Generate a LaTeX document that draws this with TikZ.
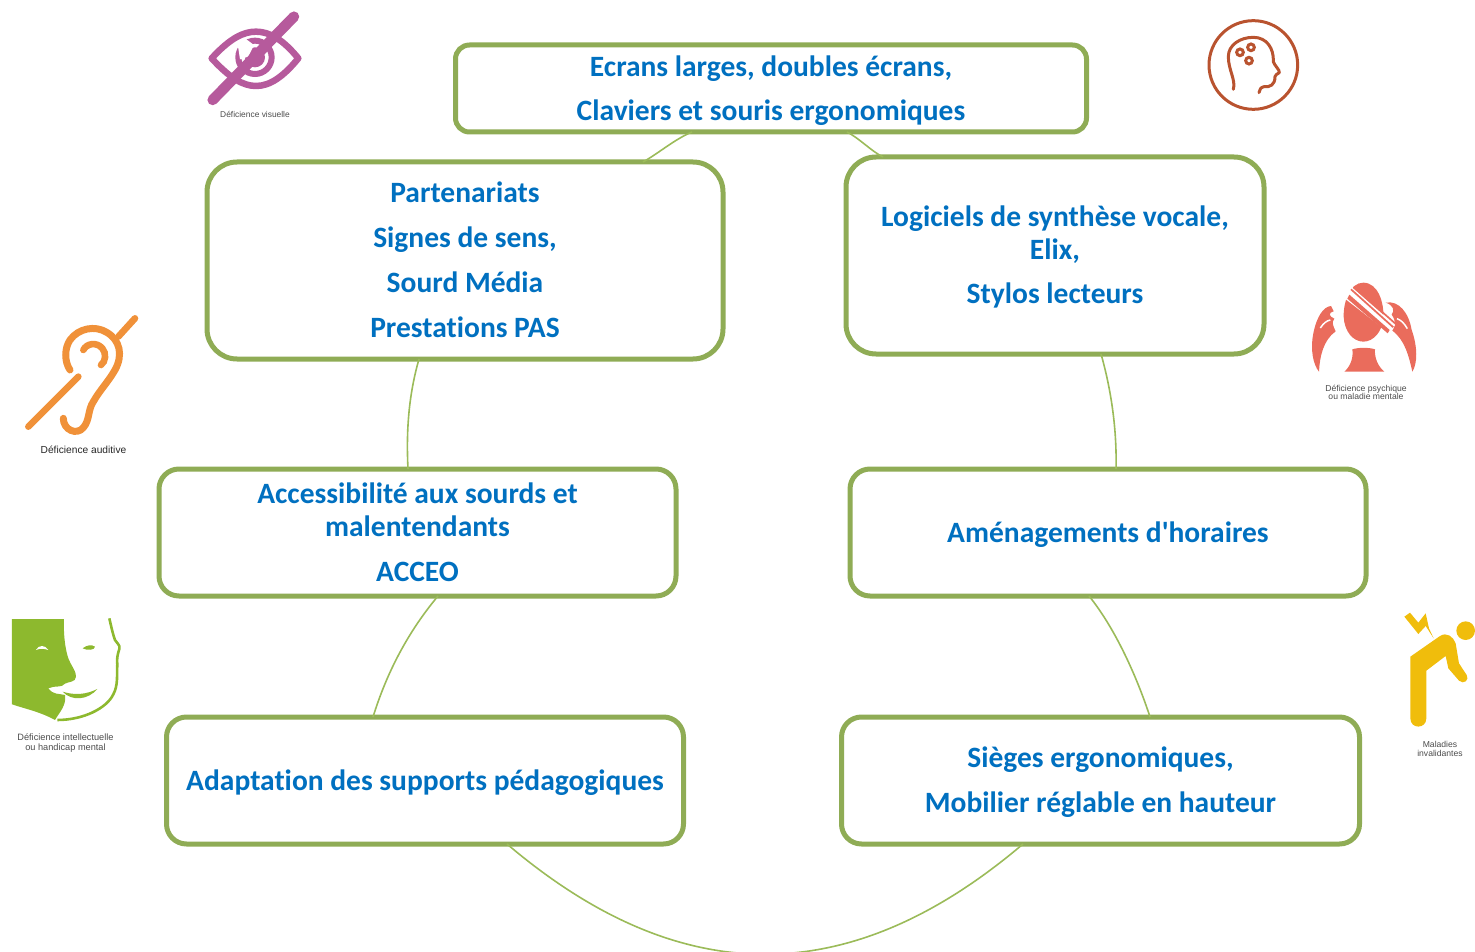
\documentclass[tikz,border=0pt]{standalone}
\usepackage{fontspec}
\newfontfamily\cardfont{Carlito}[RawFeature={-liga;-clig;-dlig}]
\newfontfamily\capfont{Liberation Sans}
\definecolor{boxgreen}{HTML}{8FAC55}
\definecolor{linkgreen}{HTML}{9BBB59}
\definecolor{txtblue}{HTML}{0070C0}
\definecolor{eyec}{HTML}{B65A9C}
\definecolor{headc}{HTML}{B9532F}
\definecolor{psyc}{HTML}{EA6C5C}
\definecolor{earc}{HTML}{F09139}
\definecolor{facec}{HTML}{8DB92E}
\definecolor{invc}{HTML}{F0BD0C}
\newcommand{\tall}[1]{\rule{0pt}{#1pt}}
\newcommand{\deep}[1]{\rule[-#1pt]{0pt}{0pt}}
\tikzset{
  card/.style={draw=boxgreen,line width=5pt,fill=white,align=center,text=txtblue,
    font=\cardfont\fontsize{29.5}{33}\selectfont\bfseries,inner sep=0pt,outer sep=0pt},
  link/.style={draw=linkgreen,line width=1.6pt},
  caption/.style={text=black!70,align=center,inner sep=0pt,font=\capfont\fontsize{8.6}{9}\selectfont},
  icon/.style={x=0.3333pt,y=-0.3333pt}
}
\begin{document}
\begin{tikzpicture}[x=1pt,y=-1pt]
\useasboundingbox (0,0) rectangle (1475,952);
\begin{scope}
\clip (0,0) rectangle (1475,952);
\node[card,minimum width=631pt,minimum height=87pt,rounded corners=14pt] (top) at (771,88.5)
  {\tall{25.5}Ecrans larges, doubles écrans,\\[11pt]Claviers et souris ergonomiques};
\node[card,minimum width=516pt,minimum height=197pt,rounded corners=30pt] (part) at (465,260.5)
  {Partenariats\\[12pt]Signes de sens,\\[12pt]Sourd Média\\[12pt]Prestations PAS\deep{2}};
\node[card,minimum width=418pt,minimum height=197pt,rounded corners=30pt] (logi) at (1055,255.5)
  {\tall{23.5}Logiciels de synthèse vocale,\\Elix,\\[11pt]Stylos lecteurs};
\node[card,minimum width=517pt,minimum height=127pt,rounded corners=20pt] (acces) at (417.5,532.5)
  {Accessibilité aux sourds et\\malentendants\\[12pt]ACCEO};
\node[card,minimum width=516pt,minimum height=127pt,rounded corners=20pt] (amen) at (1108,532.5)
  {\tall{25.5}Aménagements d'horaires};
\node[card,minimum width=517pt,minimum height=127pt,rounded corners=20pt] (adapt) at (425,780.5)
  {\tall{25.5}Adaptation des supports pédagogiques};
\node[card,minimum width=518pt,minimum height=127pt,rounded corners=20pt] (sieges) at (1100.5,780.5)
  {\tall{23.5}Sièges ergonomiques,\\[12pt]Mobilier réglable en hauteur};
% connectors
\draw[link] ([xshift=-79pt]top.south) .. controls +(-17,7) and +(16,-9) .. ([xshift=178pt]part.north);
\draw[link] ([xshift=76pt]top.south) .. controls +(12,6) and +(-12,-6) .. ([xshift=-172pt]logi.north);
\draw[link] ([xshift=46pt]logi.south) .. controls +(10,35) and +(1,-40) .. ([xshift=8pt]amen.north);
\draw[link] ([xshift=-19pt]amen.south) .. controls +(26,32) and +(-13,-40) .. ([xshift=49.5pt]sieges.north);
\draw[link] ([xshift=-77.5pt]sieges.south) .. controls +(-173,147) and +(173,147) .. ([xshift=82pt]adapt.south);
\draw[link] ([xshift=-52pt]adapt.north) .. controls +(14,-45) and +(-30,36) .. ([xshift=20.5pt]acces.south);
\draw[link] ([xshift=-9.5pt]acces.north) .. controls +(-2,-40) and +(-10,35) .. ([xshift=-46pt]part.south);
\end{scope}
% visual impairment icon
\begin{scope}[shift={(180,0)},icon]
  \draw[eyec,line width=6.5pt,line join=round] (95,175) .. controls (150,115) and (190,95) .. (228,95)
     .. controls (270,95) and (310,120) .. (355,175) .. controls (310,230) and (270,258) .. (228,258)
     .. controls (190,258) and (150,235) .. (95,175) -- cycle;
  \draw[eyec,line width=6pt] (225,172) circle (50);
  \fill[eyec] (225,172) circle (30);
  \fill[white] (170,125) -- (195,115) -- (222,135) -- (205,170) -- (180,178) -- (175,145) -- cycle;
  \draw[eyec,line width=10.5pt,line cap=round] (342,50) -- (98,300);
\end{scope}
\node[caption,font=\capfont\fontsize{8.4}{9}\selectfont] (capvis) at (255,114) {Déficience visuelle};
% brain icon
\begin{scope}[shift={(1190,10)},icon]
  \draw[headc,line width=3pt] (190,165) circle (133);
  \draw[headc,line width=3pt,line cap=round,line join=round] (130,238) .. controls (138,210) and (115,180) .. (115,140)
     .. controls (115,105) and (150,82) .. (190,82) .. controls (230,82) and (252,115) .. (250,155)
     .. controls (252,165) and (270,180) .. (268,188) .. controls (262,195) and (255,192) .. (255,200)
     .. controls (255,225) and (240,232) .. (222,230) .. controls (212,232) and (208,240) .. (207,248);
  \foreach \p in {(150,127),(183,112),(177,152)}
    \draw[headc,line width=3pt] \p circle (10);
\end{scope}
% psychic icon
\begin{scope}[shift={(1295,270)},icon]
  \fill[psyc] (205,38) .. controls (250,38) and (268,100) .. (265,145)
     .. controls (262,185) and (235,215) .. (205,215) .. controls (175,215) and (148,185) .. (146,140)
     .. controls (145,95) and (165,38) .. (205,38) -- cycle;
  \fill[psyc] (172,238) .. controls (190,232) and (222,232) .. (240,238)
     .. controls (238,265) and (250,290) .. (268,305) -- (148,305) .. controls (165,290) and (176,265) .. (172,238) -- cycle;
  \fill[psyc] (108,108) .. controls (85,110) and (65,140) .. (55,190) .. controls (45,240) and (55,285) .. (72,305)
     .. controls (74,260) and (85,210) .. (122,184) .. controls (116,170) and (108,158) .. (118,146)
     .. controls (100,138) and (100,128) .. (116,124) -- cycle;
  \draw[white,line width=1.5pt] (76,174) .. controls (85,160) and (95,152) .. (106,150);
  \fill[psyc] (272,98) .. controls (312,90) and (342,130) .. (350,180) .. controls (368,230) and (368,280) .. (352,305)
     .. controls (342,260) and (330,210) .. (292,182) .. controls (300,170) and (305,155) .. (290,134)
     .. controls (300,122) and (295,105) .. (272,98) -- cycle;
  \draw[white,line width=1.5pt] (337,176) .. controls (328,160) and (318,150) .. (306,146);
  % scarf of stripes across the head
  \fill[white] (142,80) -- (166,48) -- (300,165) -- (284,190) -- cycle;
  \draw[psyc,line width=1.7pt] (168,58) -- (295,172);
  \draw[psyc,line width=1.7pt] (176,50) -- (300,160);
  \fill[psyc] (157,86) -- (163,74) -- (284,180) -- (278,190) -- cycle;
\end{scope}
\node[caption,font=\capfont\fontsize{8.6}{8.6}\selectfont] (cappsy) at (1366,392.5) {Déficience psychique\\ou maladie mentale};
% hearing icon
\begin{scope}[shift={(15,305)},icon]
  \draw[earc,line width=6.6pt,line cap=round] (360,40) -- (310,95);
  \draw[earc,line width=6.6pt,line cap=round] (190,215) -- (40,365);
  \draw[earc,line width=7pt,line cap=round] (165,195) .. controls (148,170) and (148,130) .. (165,105)
    .. controls (190,70) and (240,60) .. (275,82) .. controls (315,105) and (325,150) .. (300,195)
    .. controls (280,230) and (255,255) .. (235,290) .. controls (218,315) and (225,345) .. (205,368)
    .. controls (185,392) and (145,375) .. (145,340);
  \draw[earc,line width=6.6pt,line cap=round] (205,135) .. controls (215,115) and (245,110) .. (262,130)
    .. controls (275,145) and (272,170) .. (258,180);
\end{scope}
\node[caption,text=black!85,font=\capfont\fontsize{10.2}{11}\selectfont] (capaud) at (83.5,449.5) {Déficience auditive};
% face icon
\begin{scope}[shift={(0,605)},icon]
  \fill[facec] (36,42) -- (192,42) .. controls (190,85) and (195,130) .. (205,160) .. controls (212,180) and (230,200) .. (228,215)
    .. controls (228,232) and (205,230) .. (195,236) .. controls (185,250) and (165,240) .. (145,250)
    .. controls (160,270) and (175,265) .. (195,270) .. controls (200,300) and (180,320) .. (165,345)
    .. controls (120,320) and (70,310) .. (36,298) -- cycle;
  \fill[white] (108,135) .. controls (115,120) and (135,118) .. (145,135) .. controls (130,130) and (120,130) .. (108,135) -- cycle;
  \fill[facec] (248,130) .. controls (260,120) and (275,118) .. (285,125) .. controls (285,135) and (262,138) .. (248,130) -- cycle;
  \fill[facec] (188,260) .. controls (225,272) and (260,268) .. (292,252) .. controls (265,285) and (215,290) .. (188,260) -- cycle;
  \draw[facec,line width=2.6pt,line join=round] (328,40) .. controls (335,70) and (338,85) .. (345,105)
    .. controls (350,115) and (362,120) .. (358,132) .. controls (352,150) and (350,165) .. (352,178)
    .. controls (350,210) and (355,240) .. (340,268) .. controls (320,310) and (250,345) .. (172,345);
\end{scope}
\node[caption,font=\capfont\fontsize{9.2}{9.4}\selectfont] (capint) at (65.5,743) {Déficience intellectuelle\\ou handicap mental};
% disabling disease icon
\begin{scope}[shift={(1385,600)},icon]
  \fill[invc] (242,92) circle (28);
  \fill[invc] (76,170) -- (165,108) .. controls (185,95) and (205,110) .. (212,130)
     -- (222,190) -- (245,225) .. controls (255,240) and (235,255) .. (222,242) -- (190,205) -- (182,168)
     -- (124,212) -- (124,355) .. controls (124,388) and (76,388) .. (76,355) -- cycle;
  \fill[invc] (58,50) -- (75,38) -- (100,68) -- (122,40) -- (132,85) -- (146,115) -- (122,78) -- (100,102) -- cycle;
\end{scope}
\node[caption,font=\capfont\fontsize{8.6}{8.6}\selectfont] (capinv) at (1440,749) {Maladies\\invalidantes};
\end{tikzpicture}
\end{document}
